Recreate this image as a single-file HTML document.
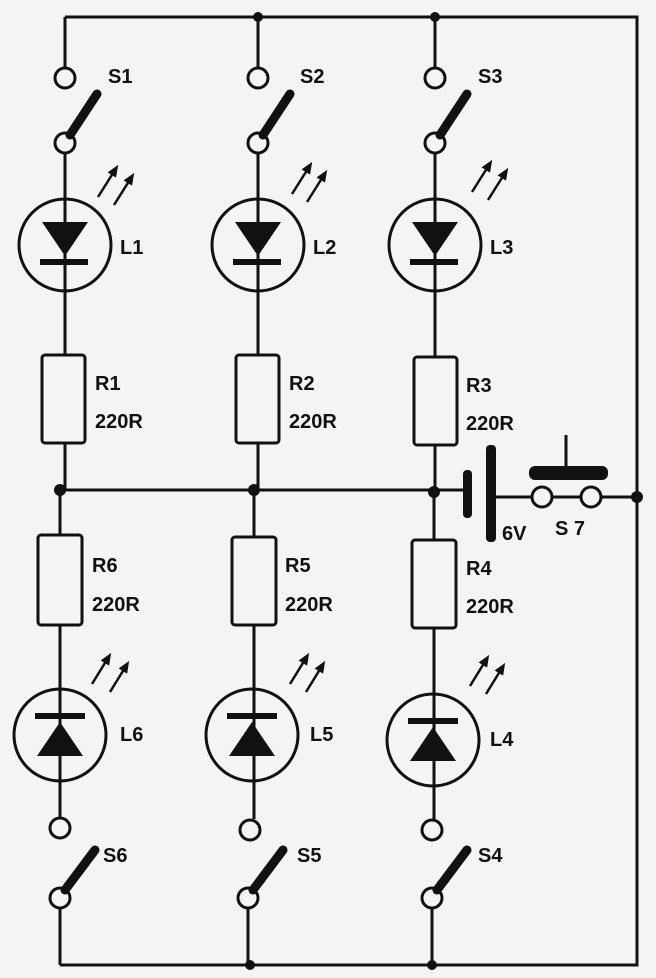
<!DOCTYPE html>
<html><head><style>
html,body{margin:0;padding:0;background:#f4f4f2;}
svg{display:block;}
text{font-family:"Liberation Sans",sans-serif;font-weight:bold;font-size:20px;fill:#111;}
</style></head><body>
<svg width="656" height="978" viewBox="0 0 656 978" xmlns="http://www.w3.org/2000/svg">
<defs>
<marker id="ah" markerWidth="12" markerHeight="12" refX="6" refY="5" orient="auto" markerUnits="userSpaceOnUse"><path d="M0,0 L12,5 L0,10 Z" fill="#111"/></marker>
</defs>
<g stroke="#111" stroke-width="3" fill="none">
<path d="M65,17 H637 V965 H60"/>
<path d="M258,17 V67 M435,17 V67 M65,17 V67"/>
<path d="M60,490 H470"/>
<path d="M491,497 H531 M552,497 H581 M601,497 H637"/>
<path d="M566,435 V472"/>
<path d="M65,154 V355 M65,443 V490"/>
<path d="M258,154 V355 M258,443 V490"/>
<path d="M435,154 V357 M435,445 V490"/>
<path d="M60,490 V535 M60,625 V817 M60,909 V965"/>
<path d="M254,490 V537 M254,625 V819 M248,909 V965"/>
<path d="M434,490 V540 M434,628 V819 M432,909 V965"/>
<rect x="42" y="355" width="43" height="88" rx="3"/>
<rect x="236" y="355" width="43" height="88" rx="3"/>
<rect x="414" y="357" width="43" height="88" rx="3"/>
<rect x="38" y="535" width="44" height="90" rx="3"/>
<rect x="232" y="537" width="44" height="88" rx="3"/>
<rect x="412" y="540" width="44" height="88" rx="3"/>
<circle cx="65" cy="245" r="46"/>
<circle cx="258" cy="245" r="46"/>
<circle cx="435" cy="245" r="46"/>
<circle cx="60" cy="735" r="46"/>
<circle cx="252" cy="735" r="46"/>
<circle cx="433" cy="740" r="46"/>
<circle cx="65" cy="78" r="10"/><circle cx="65" cy="143" r="10"/>
<circle cx="258" cy="78" r="10"/><circle cx="258" cy="143" r="10"/>
<circle cx="435" cy="78" r="10"/><circle cx="435" cy="143" r="10"/>
<circle cx="60" cy="828" r="10"/><circle cx="60" cy="898" r="10"/>
<circle cx="250" cy="830" r="10"/><circle cx="248" cy="898" r="10"/>
<circle cx="432" cy="830" r="10"/><circle cx="432" cy="898" r="10"/>
<circle cx="542" cy="497" r="10"/><circle cx="591" cy="497" r="10"/>
<g stroke-width="2.5" marker-end="url(#ah)">
<path d="M98,197 L115,170"/><path d="M114,205 L131,178"/>
<path d="M292,194 L309,167"/><path d="M307,202 L324,175"/>
<path d="M472,192 L489,165"/><path d="M488,200 L505,173"/>
<path d="M92,684 L108,658"/><path d="M110,692 L126,666"/>
<path d="M290,684 L306,658"/><path d="M306,692 L322,666"/>
<path d="M470,686 L486,660"/><path d="M486,694 L502,668"/>
</g>
</g>
<g fill="#111" stroke="none">
<g stroke="#111" stroke-width="9" stroke-linecap="round">
<path d="M70,135 L97,94"/><path d="M263,135 L290,94"/><path d="M440,135 L467,94"/>
<path d="M65,890 L95,850"/><path d="M253,890 L283,850"/><path d="M437,890 L467,850"/>
</g>
<path d="M42,222 H88 L65,256 Z"/><rect x="40" y="259" width="48" height="6"/>
<path d="M235,222 H281 L258,256 Z"/><rect x="233" y="259" width="48" height="6"/>
<path d="M412,222 H458 L435,256 Z"/><rect x="410" y="259" width="48" height="6"/>
<path d="M37,756 H83 L60,722 Z"/><rect x="35" y="713" width="50" height="6"/>
<path d="M229,756 H275 L252,722 Z"/><rect x="227" y="713" width="50" height="6"/>
<path d="M410,761 H456 L433,727 Z"/><rect x="408" y="718" width="50" height="6"/>
<rect x="463" y="470" width="9" height="48" rx="4"/>
<rect x="486" y="445" width="10" height="97" rx="4"/>
<rect x="529" y="466" width="79" height="14" rx="6"/>
<circle cx="258" cy="17" r="5"/><circle cx="435" cy="17" r="5"/>
<circle cx="60" cy="490" r="6"/><circle cx="254" cy="490" r="6"/><circle cx="434" cy="492" r="6"/>
<circle cx="637" cy="497" r="6"/>
<circle cx="250" cy="965" r="5"/><circle cx="432" cy="965" r="5"/>
</g>
<text x="108" y="83">S1</text><text x="300" y="83">S2</text><text x="478" y="83">S3</text>
<text x="120" y="254">L1</text><text x="313" y="254">L2</text><text x="490" y="254">L3</text>
<text x="95" y="390">R1</text><text x="289" y="390">R2</text><text x="466" y="392">R3</text>
<text x="95" y="428">220R</text><text x="289" y="428">220R</text><text x="466" y="430">220R</text>
<text x="92" y="572">R6</text><text x="285" y="572">R5</text><text x="466" y="575">R4</text>
<text x="92" y="611">220R</text><text x="285" y="611">220R</text><text x="466" y="613">220R</text>
<text x="120" y="741">L6</text><text x="310" y="741">L5</text><text x="490" y="746">L4</text>
<text x="103" y="862">S6</text><text x="297" y="862">S5</text><text x="478" y="862">S4</text>
<text x="502" y="540">6V</text><text x="555" y="535">S 7</text>
</svg>
</body></html>
